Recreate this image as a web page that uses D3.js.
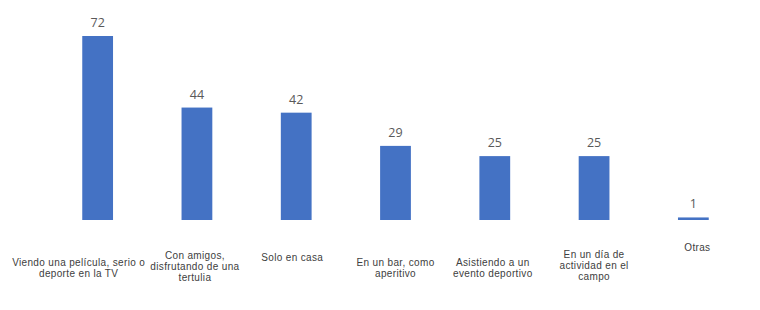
<!DOCTYPE html>
<html lang="es">
<head>
  <meta charset="UTF-8">
  <title>Bar chart</title>
  <style>
    body { margin: 0; background: #fff; }
    svg { display: block; }
  </style>
</head>
<body>
  <svg id="chart" width="760" height="310"></svg>

  <script src="https://d3js.org/d3.v7.min.js"></script>
  <script>
    const categories = [
      "Viendo una película, serio o deporte en la TV",
      "Con amigos, disfrutando de una tertulia",
      "Solo en casa",
      "En un bar, como aperitivo",
      "Asistiendo a un evento deportivo",
      "En un día de actividad en el campo",
      "Otras"
    ];
    const labelLines = [
      ["Viendo una película, serio o", "deporte en la TV"],
      ["Con amigos,", "disfrutando de una", "tertulia"],
      ["Solo en casa"],
      ["En un bar, como", "aperitivo"],
      ["Asistiendo a un", "evento deportivo"],
      ["En un día de", "actividad en el", "campo"],
      ["Otras"]
    ];
    const values = [72, 44, 42, 29, 25, 25, 1];

    const width = 760;
    const height = 310;
    const svg = d3.select("#chart");

    const x = d3.scaleBand()
      .domain(categories)
      .range([48, 743])
      .paddingInner(0.69)
      .paddingOuter(0.345);

    const y = d3.scaleLinear()
      .domain([0, 72])
      .range([220, 36]);

    // bars
    svg.append("g")
      .selectAll("rect")
      .data(values)
      .join("rect")
      .attr("x", (d, i) => x(categories[i]))
      .attr("y", d => y(d))
      .attr("width", x.bandwidth())
      .attr("height", d => y(0) - y(d))
      .attr("fill", "#4472C4");

    // value labels
    svg.append("g")
      .selectAll("text")
      .data(values)
      .join("text")
      .attr("x", (d, i) => x(categories[i]) + x.bandwidth() / 2)
      .attr("y", d => y(d) - 9)
      .attr("text-anchor", "middle")
      .attr("font-family", "'Open Sans', 'Liberation Sans', sans-serif")
      .attr("font-size", "12.5px")
      .attr("fill", "#595959")
      .text(d => d);

    // category labels (Excel places them a bit unevenly)
    const shiftX = [-19, -2, -4, 0, -2, 0, 4];
    const firstLine = [262, 255, 257, 262, 262, 254, 247];

    const lab = svg.append("g")
      .selectAll("text")
      .data(labelLines)
      .join("text")
      .attr("text-anchor", "middle")
      .attr("font-family", "'Liberation Sans', Arial, sans-serif")
      .attr("font-size", "10px")
      .attr("letter-spacing", "0.35px")
      .attr("fill", "#404040")
      .attr("transform", (d, i) =>
        `translate(${x(categories[i]) + x.bandwidth() / 2 + shiftX[i]},${firstLine[i] + 3.5})`);

    lab.selectAll("tspan")
      .data(d => d)
      .join("tspan")
      .attr("x", 0)
      .attr("dy", (d, j) => j === 0 ? 0 : 11)
      .text(d => d);
  </script>
</body>
</html>
